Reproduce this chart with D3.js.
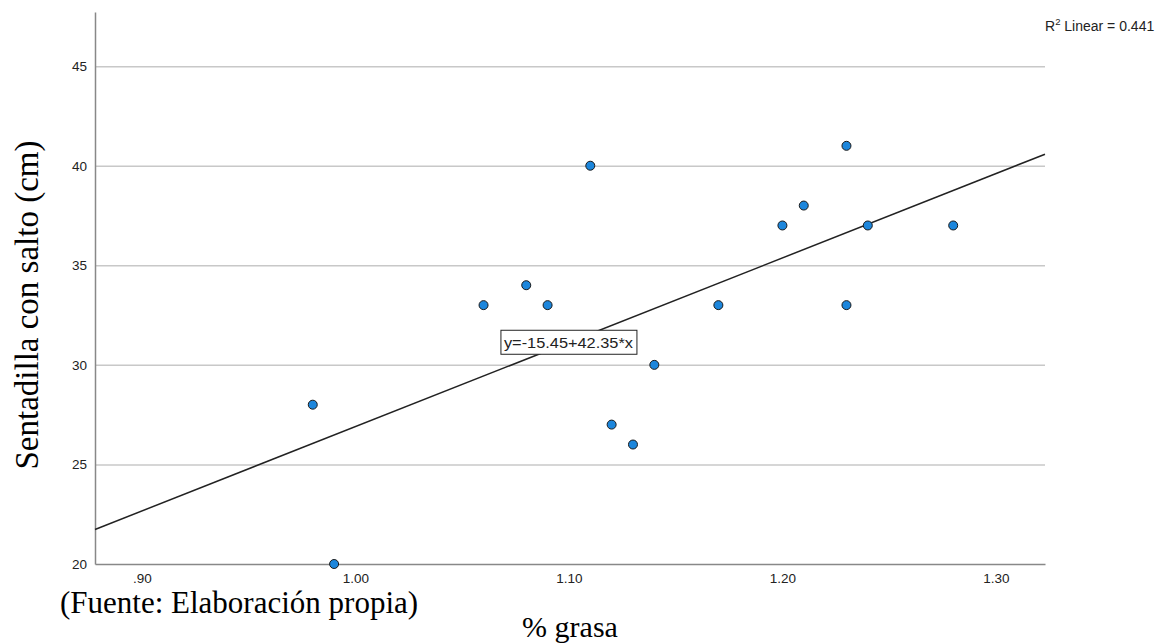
<!DOCTYPE html>
<html>
<head>
<meta charset="utf-8">
<script src="https://cdn.jsdelivr.net/npm/d3@7"></script>
<style>
  html, body { margin: 0; padding: 0; background: #fff; }
  svg { display: block; }
</style>
</head>
<body>
<svg id="chart" width="1171" height="643"></svg>
<script>
// ---- data ----
const grasa = [0.98, 0.99, 1.06, 1.08, 1.09, 1.11, 1.12, 1.13, 1.14, 1.17, 1.20, 1.21, 1.23, 1.23, 1.24, 1.28];
const salto = [28, 20, 33, 34, 33, 40, 27, 26, 30, 33, 37, 38, 41, 33, 37, 37];
const xTicks = [0.90, 1.00, 1.10, 1.20, 1.30];
const xTickLabels = [".90", "1.00", "1.10", "1.20", "1.30"];
const yTicks = [20, 25, 30, 35, 40, 45];
const fitIntercept = -15.45;
const fitSlope = 42.35;
const r2 = 0.441;
const eqLabelAt = 1.10;

(function () {
const svg = d3.select("#chart");
const mLeft = 95, mRight = 1045, mTop = 12, mBottom = 564;
const sans = "Arial, 'Liberation Sans', sans-serif";
const serif = "'Times New Roman', 'Liberation Serif', serif";

const x = d3.scaleLinear().domain([0.878, 1.323]).range([mLeft, mRight]);
const y = d3.scaleLinear().domain([20, 47.72]).range([mBottom, mTop]);

// gridlines
svg.append("g")
  .attr("transform", `translate(${mLeft},0)`)
  .call(d3.axisLeft(y).tickValues(yTicks.filter(v => v > 20)).tickSize(-(mRight - mLeft)).tickFormat(""))
  .call(g => g.select(".domain").remove())
  .call(g => g.selectAll("line").attr("stroke", "#c8c8c8").attr("stroke-width", 1.5));

// y axis
svg.append("g")
  .attr("transform", `translate(${mLeft},0)`)
  .call(d3.axisLeft(y).tickValues(yTicks).tickSize(0).tickPadding(8).tickFormat(d3.format("d")))
  .call(g => g.select(".domain").attr("stroke", "#888").attr("stroke-width", 1.5))
  .call(g => g.selectAll("text").attr("font-family", sans).attr("font-size", 13.5).attr("fill", "#222"));

// x axis
svg.append("g")
  .attr("transform", `translate(0,${mBottom})`)
  .call(d3.axisBottom(x).tickValues(xTicks).tickSize(0).tickPadding(9)
    .tickFormat((d, i) => xTickLabels[i]))
  .call(g => g.select(".domain").attr("stroke", "#888").attr("stroke-width", 1.5))
  .call(g => g.selectAll("text").attr("font-family", sans).attr("font-size", 13.5).attr("fill", "#222"));

// fit line
const x0 = x.domain()[0], x1 = x.domain()[1];
svg.append("line")
  .attr("x1", x(x0)).attr("y1", y(fitIntercept + fitSlope * x0))
  .attr("x2", x(x1)).attr("y2", y(fitIntercept + fitSlope * x1))
  .attr("stroke", "#222").attr("stroke-width", 1.5);

// points
svg.append("g").selectAll("circle")
  .data(grasa.map((g, i) => [g, salto[i]]))
  .join("circle")
  .attr("cx", d => x(d[0]))
  .attr("cy", d => y(d[1]))
  .attr("r", 4.5)
  .attr("fill", "#1c86dc")
  .attr("stroke", "#1a1a1a")
  .attr("stroke-width", 1);

// equation label, centred on the fit line
const eqW = 136, eqH = 24;
const eq = svg.append("g")
  .attr("transform", `translate(${x(eqLabelAt)}, ${y(fitIntercept + fitSlope * eqLabelAt)})`);
eq.append("rect")
  .attr("x", -eqW / 2).attr("y", -eqH / 2).attr("width", eqW).attr("height", eqH)
  .attr("fill", "#fff").attr("stroke", "#222").attr("stroke-width", 1);
eq.append("text")
  .attr("x", -eqW / 2 + 3).attr("y", 6)
  .attr("font-family", sans)
  .attr("font-size", 15.5)
  .attr("fill", "#222")
  .attr("textLength", eqW - 7)
  .attr("lengthAdjust", "spacingAndGlyphs")
  .text(`y=${fitIntercept.toFixed(2)}+${fitSlope.toFixed(2)}*x`);

// R2 label
const r2t = svg.append("text")
  .attr("x", 1045).attr("y", 31)
  .attr("font-family", sans)
  .attr("font-size", 14).attr("fill", "#222");
r2t.append("tspan").text("R");
r2t.append("tspan").attr("font-size", 9.5).attr("dy", -6).text("2");
r2t.append("tspan").attr("dy", 6).text(` Linear = ${r2.toFixed(3)}`);

// titles
svg.append("text")
  .attr("transform", `translate(38, 305) rotate(-90)`)
  .attr("text-anchor", "middle")
  .attr("font-family", serif)
  .attr("font-size", 33).attr("fill", "#000")
  .text("Sentadilla con salto (cm)");

svg.append("text")
  .attr("x", 60).attr("y", 613)
  .attr("font-family", serif)
  .attr("font-size", 31).attr("fill", "#000")
  .text("(Fuente: Elaboración propia)");

svg.append("text")
  .attr("x", 570).attr("y", 637)
  .attr("text-anchor", "middle")
  .attr("font-family", serif)
  .attr("font-size", 30).attr("fill", "#000")
  .text("% grasa");
})();
</script>
</body>
</html>
